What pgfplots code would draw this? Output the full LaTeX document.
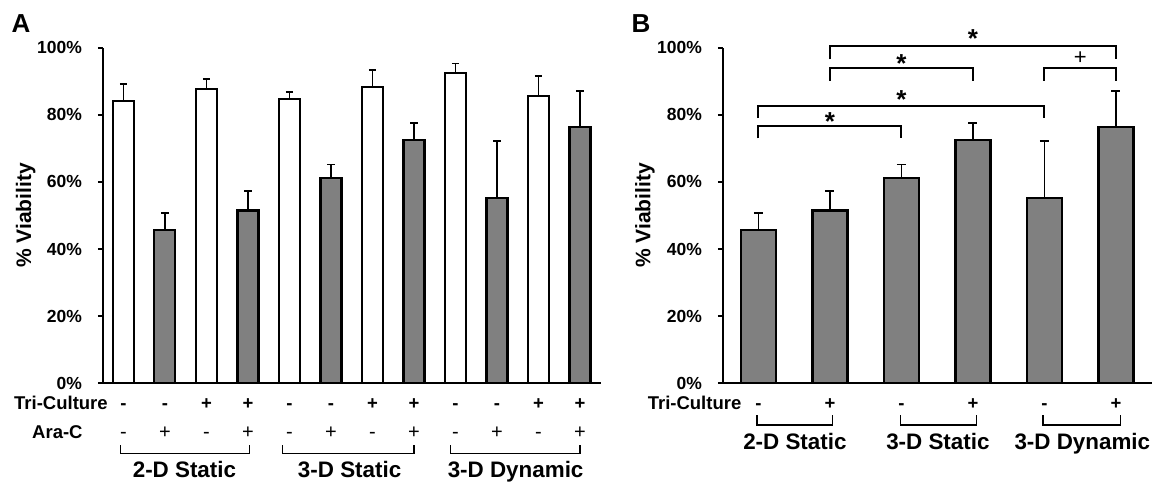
\documentclass[border=0pt]{standalone}
\usepackage{pgfplots}
\pgfplotsset{compat=1.18}
\usepackage{pgfplotstable}
\usepackage{fontspec}
\setmainfont{Liberation Sans}
\newcommand{\fs}[1]{\fontsize{#1}{#1}\selectfont\bfseries}
\definecolor{bargray}{HTML}{808080}

\pgfplotstableread{
x y e
0 84.2 5.0
2 87.6 3.0
4 84.7 2.2
6 88.2 5.1
8 92.5 2.8
10 85.6 5.9
}\Awhite
\pgfplotstableread{
x y e
1 45.8 4.9
3 51.5 5.8
5 61.2 4.0
7 72.6 5.0
9 55.2 16.9
11 76.5 10.5
}\Agray
\pgfplotstableread{
x y e
0 45.8 4.9
1 51.5 5.8
2 61.2 4.0
3 72.6 5.0
4 55.2 16.9
5 76.5 10.5
}\Bgray

\pgfplotsset{
  vb/.style={
    scale only axis, height=167.8pt, ymin=0, ymax=100,
    axis x line=bottom, axis y line=left,
    axis line style={-, line width=1.1pt, black},
    xtick=\empty, ytick={0,20,40,60,80,100},
    yticklabels={0\%,20\%,40\%,60\%,80\%,100\%},
    ytick align=outside, major tick length=2.4pt,
    tick style={line width=1.1pt, black},
    yticklabel style={font=\fs{8.75}, xshift=-4.5pt},
    ylabel={\% Viability},
    clip=false, ybar, bar shift=0pt,
  },
  errs/.style={
    error bars/.cd, y dir=plus, y explicit,
    error bar style={line width=0.9pt, black},
    error mark options={rotate=90, line width=0.9pt, black, mark size=#1},
  },
}

\begin{document}
\begin{tikzpicture}
\path[use as bounding box] (0pt,0pt) rectangle (576pt,-241pt);

% ---------------- Panel A ----------------
\begin{axis}[vb,
  at={(51.35pt,-191.65pt)}, anchor=south west,
  width=249pt, xmin=-0.5, xmax=11.5, bar width=10.5pt,
  every axis y label/.style={at={(axis description cs:-0.1546,0.5)}, rotate=90, anchor=center, font=\fs{10.5}},
]
\addplot[fill=white, draw=black, line width=1.05pt, errs=1.85pt] table[x=x, y=y, y error plus=e] {\Awhite};
\addplot[fill=bargray, draw=black, line width=1.05pt, errs=1.85pt] table[x=x, y=y, y error plus=e] {\Agray};

\begin{scope}[every node/.style={inner sep=0pt, font=\fs{9.25}}]
\node[anchor=base east] at (axis cs:-0.37,-7.8) {Tri-Culture};
\node[anchor=base east] at (axis cs:-0.975,-16.45) {Ara-C};
\node[anchor=base] at (axis cs:0,-7.8) {-};
\node[anchor=base] at (axis cs:1,-7.8) {-};
\node[anchor=base] at (axis cs:2,-7.8) {+};
\node[anchor=base] at (axis cs:3,-7.8) {+};
\node[anchor=base] at (axis cs:4,-7.8) {-};
\node[anchor=base] at (axis cs:5,-7.8) {-};
\node[anchor=base] at (axis cs:6,-7.8) {+};
\node[anchor=base] at (axis cs:7,-7.8) {+};
\node[anchor=base] at (axis cs:8,-7.8) {-};
\node[anchor=base] at (axis cs:9,-7.8) {-};
\node[anchor=base] at (axis cs:10,-7.8) {+};
\node[anchor=base] at (axis cs:11,-7.8) {+};
\end{scope}
\begin{scope}[every node/.style={inner sep=0pt, font=\fontsize{10}{10}\selectfont}]
\node[anchor=base] at (axis cs:0,-16.45) {-};
\node[anchor=base] at (axis cs:1,-16.45) {+};
\node[anchor=base] at (axis cs:2,-16.45) {-};
\node[anchor=base] at (axis cs:3,-16.45) {+};
\node[anchor=base] at (axis cs:4,-16.45) {-};
\node[anchor=base] at (axis cs:5,-16.45) {+};
\node[anchor=base] at (axis cs:6,-16.45) {-};
\node[anchor=base] at (axis cs:7,-16.45) {+};
\node[anchor=base] at (axis cs:8,-16.45) {-};
\node[anchor=base] at (axis cs:9,-16.45) {+};
\node[anchor=base] at (axis cs:10,-16.45) {-};
\node[anchor=base] at (axis cs:11,-16.45) {+};
\end{scope}
\draw[line width=0.6pt] (axis cs:-0.08,-18.4) -- (axis cs:-0.08,-20.8) -- (axis cs:3.03,-20.8) -- (axis cs:3.03,-18.4);
\draw[line width=0.6pt] (axis cs:3.84,-18.4) -- (axis cs:3.84,-20.8) -- (axis cs:7.0,-20.8) -- (axis cs:7.0,-18.4);
\draw[line width=0.6pt] (axis cs:7.89,-18.4) -- (axis cs:7.89,-20.8) -- (axis cs:11.0,-20.8) -- (axis cs:11.0,-18.4);
\begin{scope}[every node/.style={inner sep=0pt, font=\fs{11.2}, anchor=base}]
\node at (axis cs:1.47,-28.2) {2-D Static};
\node at (axis cs:5.45,-28.2) {3-D Static};
\node at (axis cs:9.45,-28.2) {3-D Dynamic};
\end{scope}
\end{axis}

% ---------------- Panel B ----------------
\begin{axis}[vb,
  at={(361.35pt,-191.65pt)}, anchor=south west,
  width=214.5pt, xmin=-0.5, xmax=5.5, bar width=17.5pt,
  every axis y label/.style={at={(axis description cs:-0.1811,0.5)}, rotate=90, anchor=center, font=\fs{10.5}},
]
\addplot[fill=bargray, draw=black, line width=1.05pt, errs=2.25pt] table[x=x, y=y, y error plus=e] {\Bgray};

\begin{scope}[every node/.style={inner sep=0pt, font=\fs{9.25}}]
\node[anchor=base east] at (axis cs:-0.234,-7.8) {Tri-Culture};
\node[anchor=base] at (axis cs:0,-7.8) {-};
\node[anchor=base] at (axis cs:1,-7.8) {+};
\node[anchor=base] at (axis cs:2,-7.8) {-};
\node[anchor=base] at (axis cs:3,-7.8) {+};
\node[anchor=base] at (axis cs:4,-7.8) {-};
\node[anchor=base] at (axis cs:5,-7.8) {+};
\end{scope}
\draw[line width=0.6pt] (axis cs:-0.02,-9.45) -- (axis cs:-0.02,-12.4) -- (axis cs:1.04,-12.4) -- (axis cs:1.04,-9.45);
\draw[line width=0.6pt] (axis cs:1.99,-9.45) -- (axis cs:1.99,-12.4) -- (axis cs:3.05,-12.4) -- (axis cs:3.05,-9.45);
\draw[line width=0.6pt] (axis cs:3.98,-9.45) -- (axis cs:3.98,-12.4) -- (axis cs:5.06,-12.4) -- (axis cs:5.06,-9.45);
\begin{scope}[every node/.style={inner sep=0pt, font=\fs{11.2}, anchor=base}]
\node at (axis cs:0.51,-19.8) {2-D Static};
\node at (axis cs:2.51,-19.8) {3-D Static};
\node at (axis cs:4.53,-19.8) {3-D Dynamic};
\end{scope}
% significance brackets
\draw[line width=1pt] (axis cs:1,96.5) -- (axis cs:1,100.5) -- (axis cs:5,100.5) -- (axis cs:5,96.5);
\draw[line width=1pt] (axis cs:1,90.1) -- (axis cs:1,93.9) -- (axis cs:3,93.9) -- (axis cs:3,90.1);
\draw[line width=1pt] (axis cs:4,90.1) -- (axis cs:4,93.9) -- (axis cs:5,93.9) -- (axis cs:5,90.1);
\draw[line width=1pt] (axis cs:0,79.0) -- (axis cs:0,82.7) -- (axis cs:4,82.7) -- (axis cs:4,79.0);
\draw[line width=1pt] (axis cs:0,73.0) -- (axis cs:0,76.7) -- (axis cs:2,76.7) -- (axis cs:2,73.0);
\begin{scope}[every node/.style={inner sep=0pt, font=\fs{13}, anchor=base}]
\node at (axis cs:3,100.0) {*};
\node at (axis cs:2,92.6) {*};
\node at (axis cs:2,81.8) {*};
\node at (axis cs:1,75.4) {*};
\end{scope}
\node[inner sep=0pt, font=\fontsize{11}{11}\selectfont, anchor=center] at (axis cs:4.5,96.9) {+};
\end{axis}

\node[font=\fs{13}, inner sep=0pt] at (10.5pt,-11.75pt) {A};
\node[font=\fs{13}, inner sep=0pt] at (320.5pt,-11.75pt) {B};
\end{tikzpicture}
\end{document}
